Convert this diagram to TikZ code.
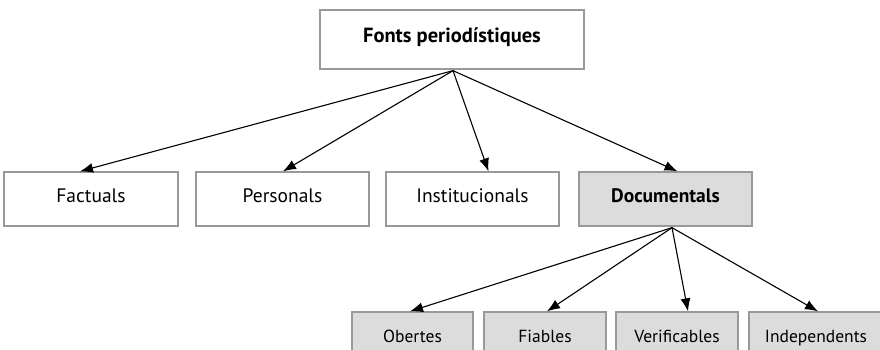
\documentclass[tikz,border=0pt]{standalone}
\usepackage{fontspec}
\setmainfont{PT Sans}
\usetikzlibrary{arrows.meta,calc}
\definecolor{boxline}{HTML}{999999}
\definecolor{boxfill}{HTML}{DCDCDC}
\tikzset{
  box/.style={draw=boxline, line width=1.3pt, fill=white, minimum height=54pt, inner sep=0pt, text height=0.7em, text depth=0pt, font=\fontsize{19.5}{22}\selectfont},
  gbox/.style={box, fill=boxfill, font=\fontsize{17.5}{20}\selectfont},
  arr/.style={line width=1.1pt, -{Latex[length=13pt,width=10pt]}}
}
\begin{document}
\begin{tikzpicture}[x=1pt,y=-1pt]
\clip (0,0) rectangle (880,350);
\fill[white] (0,0) rectangle (880,350);
\node[box, minimum width=264pt, minimum height=59pt, font=\fontsize{20.5}{22}\selectfont\bfseries] (top) at (452,39.5) {Fonts periodístiques};
\node[box, minimum width=174pt] (fac) at (91,199) {Factuals};
\node[box, minimum width=173pt] (per) at (282.5,199) {Personals};
\node[box, minimum width=173pt] (ins) at (472.5,199) {Institucionals};
\node[gbox, minimum width=173pt, font=\fontsize{19.5}{22}\selectfont\bfseries] (doc) at (665.5,199) {Documentals};
\node[gbox, minimum width=121pt] (obe) at (412.5,339) {Obertes};
\node[gbox, minimum width=122pt] (fia) at (545,339) {Fiables};
\node[gbox, minimum width=122pt] (ver) at (677,339) {Verificables};
\node[gbox, minimum width=134pt] (ind) at (816,339) {Independents};
\coordinate (tf) at ($(fac.north)+(-11,0)$);
\coordinate (tp) at ($(per.north)+(0.5,0)$);
\coordinate (ti) at ($(ins.north)+(16,0)$);
\coordinate (td) at ($(doc.north)+(12,0)$);
\coordinate (to) at ($(obe.north)+(-2.5,0)$);
\coordinate (tfi) at ($(fia.north)+(2,0)$);
\coordinate (tv) at ($(ver.north)+(11,0)$);
\coordinate (tin) at ($(ind.north)+(2,0)$);
\coordinate (ap) at ($(top.south)+(1,1)$);
\coordinate (dp) at ($(doc.south)+(6.5,1)$);
\foreach \t in {tf,tp,ti,td} \draw[arr] (ap) -- (\t);
\foreach \t in {to,tfi,tv,tin} \draw[arr] (dp) -- (\t);
\end{tikzpicture}
\end{document}
